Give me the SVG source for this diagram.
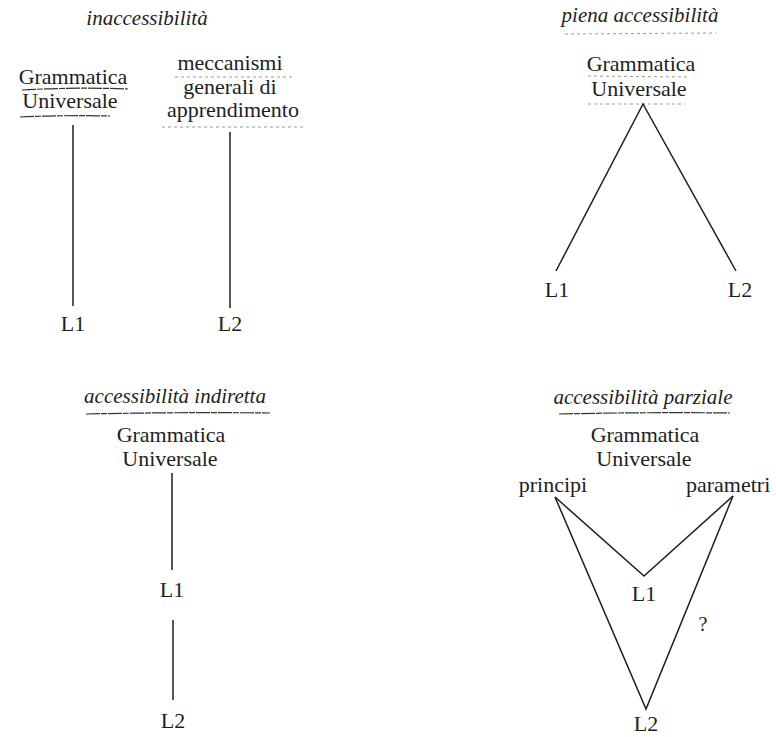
<svg xmlns="http://www.w3.org/2000/svg" width="776" height="737" viewBox="0 0 776 737">
  <style>
    text { font-family: "Liberation Serif", "Times New Roman", serif; fill: #1e1e1e; }
    .lbl { font-size: 22px; text-anchor: middle; }
    .ttl { font-size: 21px; font-style: italic; text-anchor: middle; }
    .q { font-size: 20px; text-anchor: middle; }
    .edge { stroke: #1e1e1e; stroke-width: 1.5; fill: none; stroke-linejoin: miter; }
    .rule { stroke: #333; stroke-width: 1.2; fill: none; stroke-dasharray: 14 1 6 1; }
    .faint { stroke: #9a9a9a; stroke-width: 1; fill: none; stroke-dasharray: 3 3; }
  </style>

  <rect width="776" height="737" fill="#ffffff"/>

  <!-- Panel titles -->
  <g id="titles">
    <text class="ttl" x="147" y="25">inaccessibilità</text>
    <text class="ttl" x="640" y="22">piena accessibilità</text>
    <text class="ttl" x="175" y="403">accessibilità indiretta</text>
    <text class="ttl" x="643" y="404">accessibilità parziale</text>
  </g>

  <!-- Pen underlines -->
  <g id="underlines">
    <path class="rule" d="M22 90 Q75 87 128 89"/>
    <path class="rule" d="M20 117 Q65 115 110 116"/>
    <path class="faint" d="M565 34 L716 33"/>
    <path class="faint" d="M588 76 L690 77"/>
    <path class="faint" d="M588 104 L685 104"/>
    <path class="faint" d="M175 77 L292 77"/>
    <path class="faint" d="M162 127 L305 127"/>
    <path class="rule" d="M86 414 Q178 412 270 413"/>
    <path class="rule" d="M559 414 Q645 412 730 413"/>
  </g>

  <!-- Connectors -->
  <g id="connectors">
    <line class="edge" x1="73" y1="125" x2="73" y2="306"/>
    <line class="edge" x1="230" y1="132" x2="230" y2="308"/>
    <path class="edge" d="M556 271 L643 104 L736 271"/>
    <line class="edge" x1="172" y1="473" x2="172" y2="570"/>
    <line class="edge" x1="173" y1="620" x2="173" y2="700"/>
    <path class="edge" d="M555 497 L644 576 L733 496"/>
    <path class="edge" d="M555 497 L646 709 L733 496"/>
  </g>

  <!-- inaccessibilità -->
  <g id="ug-inacc">
    <text class="lbl" x="73" y="84">Grammatica</text>
    <text class="lbl" x="70" y="108">Universale</text>
  </g>
  <g id="mga">
    <text class="lbl" x="230" y="70">meccanismi</text>
    <text class="lbl" x="230" y="94">generali di</text>
    <text class="lbl" x="233" y="117">apprendimento</text>
  </g>
  <g id="l1-inacc"><text class="lbl" x="73" y="331">L1</text></g>
  <g id="l2-inacc"><text class="lbl" x="230" y="331">L2</text></g>

  <!-- piena accessibilità -->
  <g id="ug-piena">
    <text class="lbl" x="641" y="71">Grammatica</text>
    <text class="lbl" x="639" y="96">Universale</text>
  </g>
  <g id="l1-piena"><text class="lbl" x="557" y="297">L1</text></g>
  <g id="l2-piena"><text class="lbl" x="740" y="297">L2</text></g>

  <!-- accessibilità indiretta -->
  <g id="ug-ind">
    <text class="lbl" x="171" y="442">Grammatica</text>
    <text class="lbl" x="170" y="466">Universale</text>
  </g>
  <g id="l1-ind"><text class="lbl" x="172" y="597">L1</text></g>
  <g id="l2-ind"><text class="lbl" x="173" y="728">L2</text></g>

  <!-- accessibilità parziale -->
  <g id="ug-parz">
    <text class="lbl" x="645" y="442">Grammatica</text>
    <text class="lbl" x="644" y="466">Universale</text>
  </g>
  <g id="principi"><text class="lbl" x="553" y="492">principi</text></g>
  <g id="parametri"><text class="lbl" x="686" y="492" style="text-anchor:start">parametri</text></g>
  <g id="l1-parz"><text class="lbl" x="644" y="601">L1</text></g>
  <g id="l2-parz"><text class="lbl" x="646" y="731">L2</text></g>
  <g id="qmark"><text class="q" x="703" y="631">?</text></g>
</svg>
